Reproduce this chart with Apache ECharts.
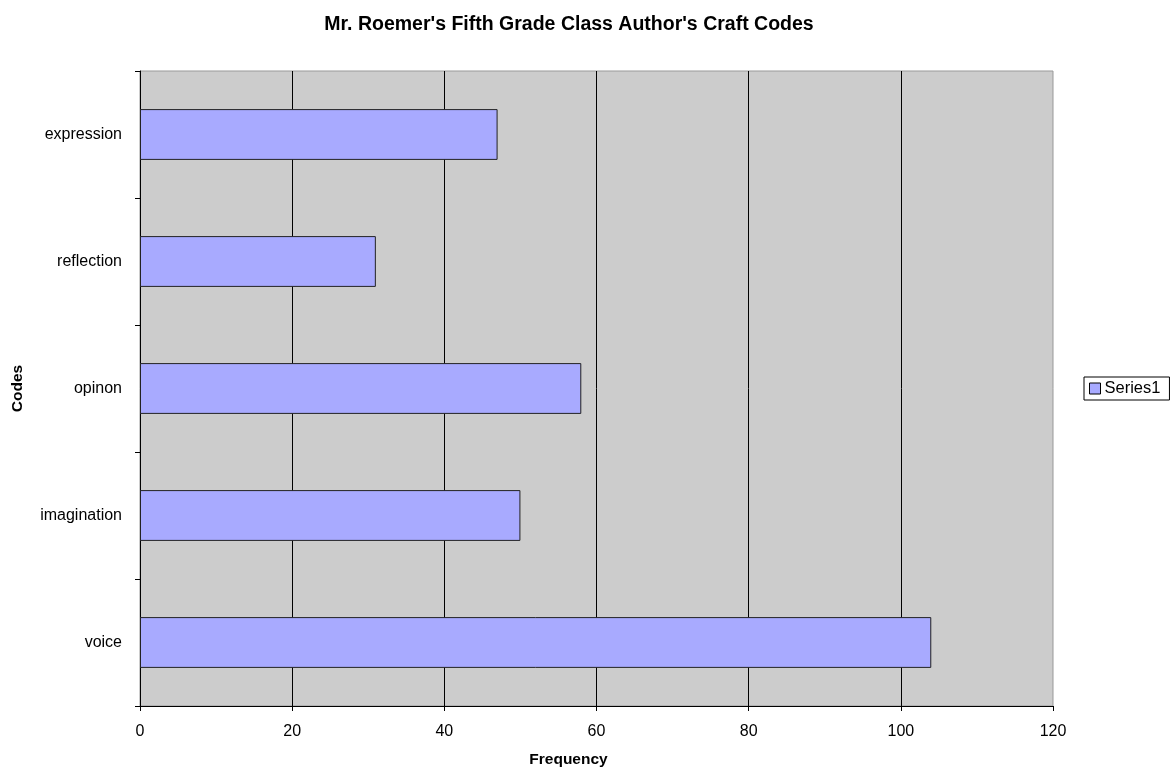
<!DOCTYPE html>
<html>
<head>
<meta charset="utf-8">
<script src="https://cdn.jsdelivr.net/npm/echarts@6/dist/echarts.min.js"></script>
<style>html,body{margin:0;padding:0;background:#fff}#c{width:1175px;height:773px}</style>
</head>
<body>
<div id="c"></div>
<script>
const categories = ['voice', 'imagination', 'opinon', 'reflection', 'expression'];
const series1 = [104, 50, 58, 31, 47];
const xTicks = [0, 20, 40, 60, 80, 100, 120];

const font = '"Liberation Sans", Arial, sans-serif';
const chart = echarts.init(document.getElementById('c'));
chart.setOption({
  animation: false,
  textStyle: { fontFamily: font },
  title: {
    text: "Mr. Roemer's Fifth Grade Class Author's Craft Codes",
    left: 564, top: 10, textAlign: 'center',
    textStyle: { fontFamily: font, fontSize: 19.5, fontWeight: 'bold', color: '#000' }
  },
  legend: {
    data: ['Series1'],
    left: 1084, top: 377,
    orient: 'vertical',
    borderColor: '#000', borderWidth: 1, borderRadius: 0,
    padding: [3, 9, 3, 5],
    itemWidth: 11, itemHeight: 11, itemGap: 4,
    icon: 'rect',
    textStyle: { fontFamily: font, fontSize: 16.5, color: '#000', padding: [0, 0, 0, -1] },
    itemStyle: { borderColor: '#000', borderWidth: 1 }
  },
  grid: {
    left: 140, top: 71, right: 122, bottom: 66,
    show: true, backgroundColor: '#CCCCCC', borderColor: '#999999', borderWidth: 1,
    containLabel: false
  },
  xAxis: {
    type: 'value',
    min: xTicks[0], max: xTicks[xTicks.length - 1], interval: 20,
    name: 'Frequency', nameLocation: 'middle', nameGap: 46,
    nameTextStyle: { fontFamily: font, fontSize: 15.5, fontWeight: 'bold', color: '#000', padding: [0, 56, 0, 0] },
    axisLine: { show: true, lineStyle: { color: '#000', width: 1 } },
    axisTick: { show: true, length: 5, lineStyle: { color: '#000' } },
    axisLabel: { fontFamily: font, fontSize: 16, color: '#000', margin: 18 },
    splitLine: { show: true, showMaxLine: false, lineStyle: { color: '#000', width: 1 } }
  },
  yAxis: {
    type: 'category',
    data: categories,
    name: 'Codes', nameLocation: 'middle', nameGap: 114,
    nameTextStyle: { fontFamily: font, fontSize: 15.5, fontWeight: 'bold', color: '#000' },
    axisLine: { show: true, lineStyle: { color: '#000', width: 1 } },
    axisTick: { show: true, length: 5, lineStyle: { color: '#000' } },
    axisLabel: { fontFamily: font, fontSize: 16, color: '#000', margin: 18 },
    splitLine: { show: false }
  },
  series: [{
    name: 'Series1',
    type: 'bar',
    data: series1,
    barWidth: '40%',
    itemStyle: { color: '#A8AAFF', borderColor: '#222222', borderWidth: 1 }
  }]
});
</script>
</body>
</html>
